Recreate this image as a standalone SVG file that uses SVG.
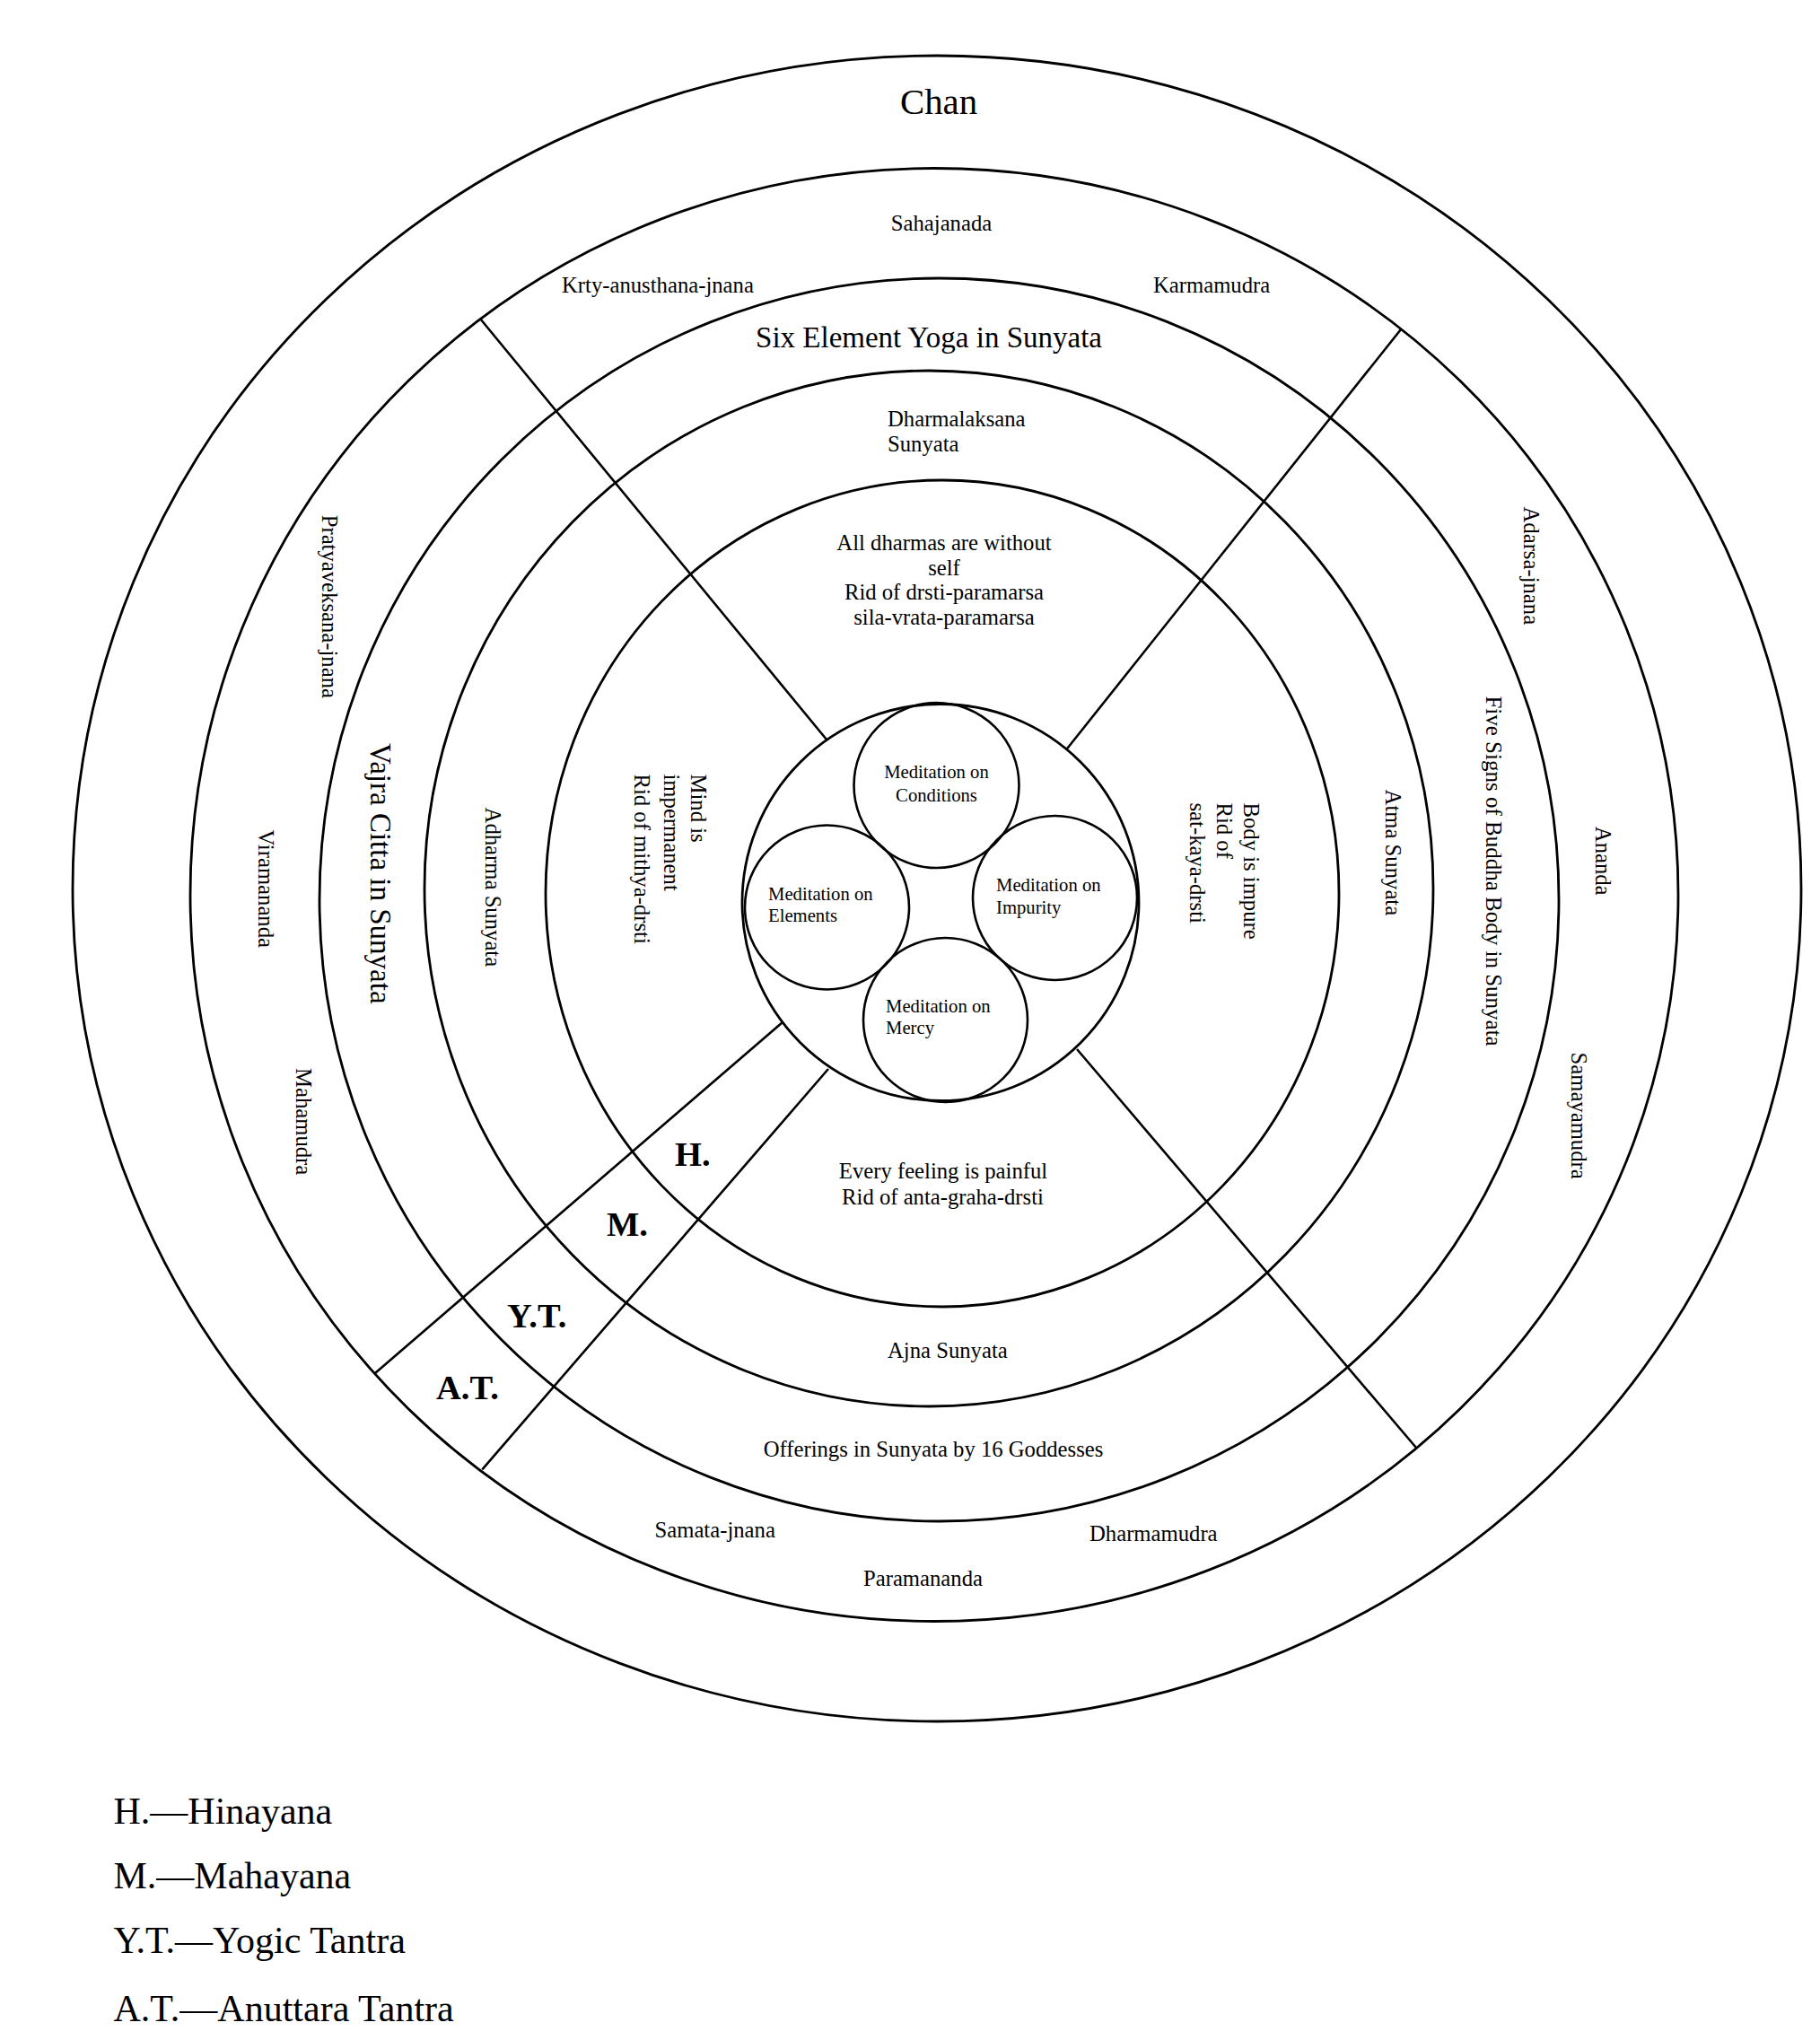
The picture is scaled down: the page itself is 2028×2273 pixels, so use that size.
<svg xmlns="http://www.w3.org/2000/svg" width="2028" height="2273" viewBox="0 0 2028 2273">
<style>
  .ring { fill: none; stroke: #000; stroke-width: 2.8; }
  .mc { fill: none; stroke: #000; stroke-width: 2.6; }
  .ln { stroke: #000; stroke-width: 2.6; fill: none; }
  text { font-family: "Liberation Serif", "Times New Roman", serif; fill: #000; }
  .t { font-size: 24.7px; }
  .tm { font-size: 24.7px; text-anchor: middle; }
  .big { font-size: 33px; }
  .med { font-size: 20.7px; }
  .lvl { font-size: 38.5px; font-weight: bold; }
  .leg { font-size: 42px; }
</style>
<rect x="0" y="0" width="2028" height="2273" fill="#fff"/>

<g id="ring-chan">
  <ellipse class="ring" cx="1044" cy="990" rx="963" ry="928"/>
  <text x="1046" y="126.7" style="font-size:40.8px;text-anchor:middle">Chan</text>
</g>

<g id="ring-mudra">
  <ellipse class="ring" cx="1041" cy="997" rx="829" ry="809.5"/>
  <text class="tm" x="1049" y="256.7">Sahajanada</text>
  <text class="t" x="626" y="326">Krty-anusthana-jnana</text>
  <text class="t" x="1285" y="326">Karmamudra</text>
  <text class="t" transform="translate(358.5,573.7) rotate(90)">Pratyaveksana-jnana</text>
  <text class="t" transform="translate(287.5,924.5) rotate(90)">Viramananda</text>
  <text class="t" transform="translate(330,1190) rotate(90)">Mahamudra</text>
  <text class="t" x="729.5" y="1713.3">Samata-jnana</text>
  <text class="t" x="962" y="1766.7">Paramananda</text>
  <text class="t" x="1214" y="1716.7">Dharmamudra</text>
  <text class="t" transform="translate(1698,564.5) rotate(90)">Adarsa-jnana</text>
  <text class="t" transform="translate(1777.5,920.8) rotate(90)">Ananda</text>
  <text class="t" transform="translate(1751,1172.5) rotate(90)">Samayamudra</text>
</g>

<g id="ring-yoga">
  <ellipse class="ring" cx="1046.5" cy="1002.5" rx="690.5" ry="692.5"/>
  <text class="big" x="1035" y="387" text-anchor="middle">Six Element Yoga in Sunyata</text>
  <text class="big" transform="translate(413,828) rotate(90)">Vajra Citta in Sunyata</text>
  <text class="tm" x="1040" y="1623">Offerings in Sunyata by 16 Goddesses</text>
  <text transform="translate(1656,775.4) rotate(90)" style="font-size:25px">Five Signs of Buddha Body in Sunyata</text>
</g>

<g id="ring-sunyata">
  <ellipse class="ring" cx="1035" cy="990" rx="562" ry="577"/>
  <text class="t" x="989" y="475">Dharmalaksana</text>
  <text class="t" x="989" y="503">Sunyata</text>
  <text class="t" transform="translate(541,899.6) rotate(90)">Adharma Sunyata</text>
  <text class="t" x="989" y="1512.7">Ajna Sunyata</text>
  <text class="t" transform="translate(1544,879.6) rotate(90)">Atma Sunyata</text>
</g>

<g id="ring-inner">
  <ellipse class="ring" cx="1050" cy="995.5" rx="442" ry="460.5"/>
  <text class="tm" x="1052" y="613">All dharmas are without</text>
  <text class="tm" x="1052" y="640.5">self</text>
  <text class="tm" x="1052" y="668">Rid of drsti-paramarsa</text>
  <text class="tm" x="1052" y="695.5">sila-vrata-paramarsa</text>
  <text class="t" transform="translate(770,862.5) rotate(90)">Mind is</text>
  <text class="t" transform="translate(740,862.5) rotate(90)">impermanent</text>
  <text class="t" transform="translate(707,862.5) rotate(90)">Rid of mithya-drsti</text>
  <text class="tm" x="1051" y="1312.5">Every feeling is painful</text>
  <text class="tm" x="1050.5" y="1341.5">Rid of anta-graha-drsti</text>
  <text class="t" transform="translate(1385.5,894.5) rotate(90)">Body is impure</text>
  <text class="t" transform="translate(1355.5,894.5) rotate(90)">Rid of</text>
  <text class="t" transform="translate(1326,894.5) rotate(90)">sat-kaya-drsti</text>
</g>

<g id="center">
  <circle class="ring" cx="1048" cy="1005.5" r="221"/>
</g>

<g id="med-conditions">
  <circle class="mc" cx="1043.5" cy="875" r="92"/>
  <text class="med" x="1043.5" y="867" text-anchor="middle">Meditation on</text>
  <text class="med" x="1043.5" y="893" text-anchor="middle">Conditions</text>
</g>
<g id="med-elements">
  <circle class="mc" cx="921.5" cy="1011" r="91.5"/>
  <text class="med" x="856" y="1002.7">Meditation on</text>
  <text class="med" x="856" y="1027">Elements</text>
</g>
<g id="med-impurity">
  <circle class="mc" cx="1175.5" cy="1000.5" r="91.5"/>
  <text class="med" x="1110" y="992.7">Meditation on</text>
  <text class="med" x="1110" y="1017.7">Impurity</text>
</g>
<g id="med-mercy">
  <circle class="mc" cx="1053.5" cy="1136.5" r="91.5"/>
  <text class="med" x="987" y="1128">Meditation on</text>
  <text class="med" x="987" y="1152">Mercy</text>
</g>

<g id="connectors">
  <line class="ln" x1="535" y1="355" x2="921" y2="824"/>
  <line class="ln" x1="1561" y1="367" x2="1188" y2="835.5"/>
  <line class="ln" x1="1200" y1="1169" x2="1578" y2="1613"/>
  <line class="ln" x1="872" y1="1139" x2="418" y2="1530"/>
  <line class="ln" x1="923" y1="1191" x2="537.3" y2="1637.3"/>
</g>

<g id="levels">
  <text class="lvl" x="752" y="1299.3">H.</text>
  <text class="lvl" x="676" y="1377.3">M.</text>
  <text class="lvl" x="565" y="1479.3">Y.T.</text>
  <text class="lvl" x="486" y="1559.3">A.T.</text>
</g>

<g id="legend">
  <text class="leg" x="126.5" y="2031.7">H.—Hinayana</text>
  <text class="leg" x="126.5" y="2104">M.—Mahayana</text>
  <text class="leg" x="126.5" y="2176">Y.T.—Yogic Tantra</text>
  <text class="leg" x="126.5" y="2251.7">A.T.—Anuttara Tantra</text>
</g>
</svg>
